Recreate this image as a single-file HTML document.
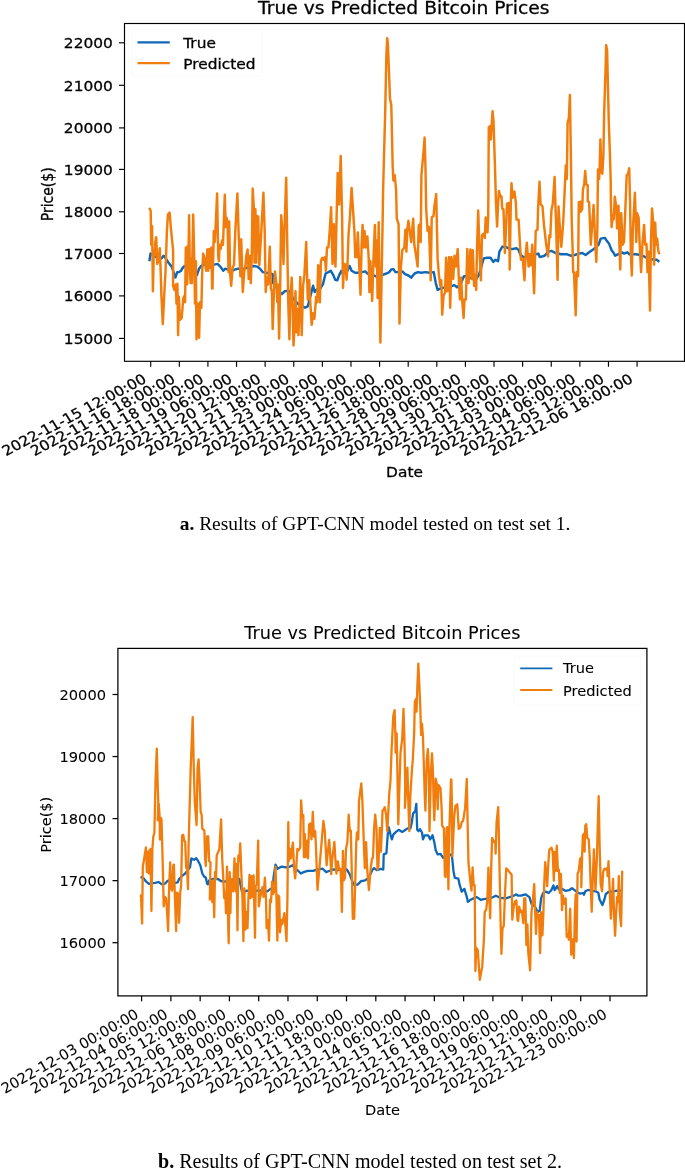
<!DOCTYPE html>
<html><head><meta charset="utf-8"><title>GPT-CNN results</title>
<style>html,body{margin:0;padding:0;background:#fff}body{width:685px;height:1169px;overflow:hidden}</style>
</head><body>
<svg width="685" height="1169" viewBox="0 0 685 1169" style="display:block">
<rect width="685" height="1169" fill="#fff"/>
<filter id="soft1" x="-3%" y="-3%" width="106%" height="106%"><feGaussianBlur stdDeviation="0.4"/></filter>
<g filter="url(#soft1)">
<clipPath id="clip1"><rect x="124.5" y="23.5" width="560.0" height="337.8"/></clipPath>
<g clip-path="url(#clip1)" fill="none" stroke-linejoin="round" stroke-linecap="butt" stroke-width="2.45">
<polyline stroke="#1068b8" points="149.4,261.2 150.5,253.6 151.8,254.3 155.9,257.1 161.4,258.4 163.5,255.7 165.5,257.8 168.3,262.5 171.7,266.6 175.4,277.6 177.2,272.1 179.2,272.1 180.9,270.8 182.6,268.0 184.7,266.0 190.2,269.4 197.0,274.9 199.1,268.7 201.1,266.0 203.9,264.6 209.3,265.3 213.4,264.6 214.1,264.6 217.5,263.9 220.3,266.6 223.3,270.8 225.1,268.7 227.8,269.4 231.9,270.8 235.3,269.4 238.1,268.7 244.2,268.7 251.1,266.6 253.8,266.0 257.2,266.6 260.0,268.7 262.7,272.1 266.1,272.8 270.2,273.5 272.7,274.2 273.2,283.1 275.7,285.8 278.4,291.3 281.8,294.0 284.6,291.3 288.7,290.6 292.8,298.1 297.6,303.6 305.1,307.7 307.8,306.3 309.9,298.1 312.0,289.9 313.1,285.8 314.7,292.0 316.1,289.9 320.2,288.5 322.9,284.4 325.6,273.5 328.4,272.1 330.8,270.8 333.2,274.9 335.2,279.7 337.3,280.3 339.3,274.9 341.4,270.8 342.7,273.5 346.8,272.1 349.6,266.0 351.6,270.8 355.1,272.8 357.8,272.8 361.9,272.1 365.3,271.4 367.4,273.5 375.6,276.2 382.4,274.9 386.5,273.5 389.3,272.1 391.3,269.4 393.4,269.1 395.4,272.1 398.9,272.1 402.3,271.4 405.0,274.2 408.4,275.5 411.2,277.6 414.6,273.5 418.0,272.1 421.4,272.8 425.5,272.1 429.6,272.8 433.7,272.1 435.8,283.1 437.6,289.9 442.0,287.9 448.8,287.2 454.3,285.1 457.0,287.2 460.4,284.4 463.9,276.2 468.0,276.2 472.1,279.0 472.7,279.0 476.2,279.0 478.9,274.9 483.7,258.4 487.1,257.8 490.5,257.8 493.3,261.9 495.3,259.8 498.1,261.2 499.4,251.6 502.2,246.8 505.6,246.8 509.7,248.9 513.1,248.9 516.5,248.2 518.6,250.2 520.6,255.0 523.4,257.1 528.9,257.1 535.7,254.3 538.4,253.6 539.8,257.1 544.6,255.7 548.7,251.6 551.4,250.9 555.5,253.0 561.0,254.3 566.5,254.1 570.6,255.7 574.7,255.0 578.8,253.6 582.2,253.0 585.6,255.0 589.1,252.3 593.9,248.9 598.6,244.7 600.7,238.6 604.9,237.9 606.2,240.0 608.9,243.4 611.6,250.2 613.7,253.0 615.1,255.7 617.8,254.3 621.9,252.3 624.0,253.6 627.4,252.3 629.4,254.3 635.6,254.3 641.1,255.0 647.9,258.4 654.1,259.8 656.8,259.8 659.3,261.9"/>
<polyline stroke="#f07d0a" points="149.1,207.8 150.7,210.5 151.2,244.7 152.1,226.3 152.9,291.3 153.8,251.6 154.6,255.7 155.3,242.0 156.2,237.2 157.3,263.9 158.7,259.8 159.8,248.2 160.7,272.1 161.4,295.4 162.8,324.1 164.2,295.4 165.5,272.1 166.9,231.1 167.9,214.6 169.6,212.6 171.0,229.7 173.1,250.2 173.1,285.8 174.4,289.9 175.8,284.4 176.5,303.6 177.4,283.8 178.1,335.1 178.9,296.8 179.9,320.0 181.7,318.0 183.3,298.1 184.7,295.4 185.1,302.2 185.8,247.5 186.5,272.1 187.2,284.4 187.8,246.1 188.3,266.6 189.1,215.3 189.9,272.1 190.6,283.1 191.3,258.4 191.9,283.1 193.2,214.6 194.3,261.2 195.0,303.6 195.9,261.2 196.5,339.2 197.7,303.6 199.1,337.8 200.0,302.2 201.4,307.7 202.2,272.1 203.2,253.6 204.5,258.4 206.2,270.8 207.3,249.5 208.2,270.8 209.3,248.9 210.4,268.0 211.4,247.5 212.1,288.5 211.4,247.5 212.5,288.5 213.8,231.1 214.8,242.0 215.5,229.7 217.1,193.4 218.2,255.7 218.9,261.2 219.6,244.7 220.7,248.9 222.0,240.6 223.0,244.7 224.8,194.8 225.7,227.0 226.4,217.4 227.5,221.5 228.5,272.1 229.2,221.5 230.1,273.5 231.2,285.8 232.6,268.0 234.0,264.6 235.3,231.1 237.4,193.4 238.7,235.2 240.4,276.2 241.2,239.3 242.8,292.0 244.2,272.1 245.3,266.6 246.3,255.7 247.6,249.5 248.7,279.0 249.7,255.7 250.8,283.1 251.7,258.4 252.7,188.6 253.8,207.8 254.5,262.5 255.4,209.2 256.3,262.5 257.2,216.0 258.2,216.7 259.3,265.3 261.3,231.1 263.4,192.7 264.7,231.1 265.7,292.0 266.8,277.6 268.2,284.4 269.8,246.8 270.9,288.5 271.9,291.3 272.7,328.9 274.1,285.8 275.0,271.4 276.4,284.4 277.3,302.2 278.0,284.4 279.1,338.5 280.2,285.8 281.2,215.3 282.5,233.8 283.5,263.9 284.3,233.8 286.2,177.8 287.6,265.3 288.3,303.6 289.4,339.2 290.3,299.5 291.7,277.6 292.5,299.5 293.5,345.4 294.4,329.6 295.5,291.3 296.5,332.3 297.6,309.1 298.5,335.1 300.3,276.9 301.7,335.1 303.1,285.8 304.4,274.9 306.2,242.0 307.2,280.3 307.8,299.5 309.2,280.3 310.3,302.2 311.7,324.8 313.1,313.2 314.4,318.7 315.4,306.3 316.1,296.8 317.2,302.2 318.1,265.3 319.1,266.6 319.9,302.2 320.9,261.2 322.2,257.8 323.6,259.8 325.0,257.1 325.9,270.8 327.0,247.5 328.4,247.5 329.7,231.1 331.1,207.2 331.8,235.2 332.5,263.9 333.9,224.2 334.5,255.7 335.5,266.6 336.6,217.4 337.7,173.0 339.1,204.5 340.7,155.9 342.1,217.4 343.0,287.9 344.1,263.9 345.5,264.6 346.6,279.7 347.5,263.9 348.5,235.2 349.9,217.4 351.6,187.9 354.4,231.1 355.3,257.1 356.7,257.1 357.8,232.4 358.9,258.4 360.5,294.7 361.6,244.7 362.6,224.9 363.5,247.5 364.6,231.1 365.7,247.5 367.4,236.5 368.7,258.4 369.4,292.0 370.4,261.2 372.2,300.9 373.5,258.4 374.9,224.9 375.9,266.6 376.7,240.6 377.6,298.1 378.7,222.2 379.7,299.5 380.4,342.6 381.7,272.1 382.7,217.4 383.1,190.0 385.2,112.0 386.3,57.4 387.2,38.2 387.9,43.7 390.0,98.4 391.3,105.3 392.7,166.9 393.4,180.6 394.7,175.1 396.1,190.0 396.8,218.7 398.6,224.2 399.5,323.5 400.9,266.6 402.3,250.2 404.3,247.5 405.4,229.7 406.4,251.6 407.3,229.7 408.4,220.8 409.8,231.1 411.2,242.0 413.2,218.7 414.3,244.7 415.9,254.3 417.6,266.6 418.7,225.6 419.8,224.2 420.7,242.0 421.4,175.3 423.5,152.0 424.6,137.6 425.5,168.4 426.2,209.5 427.6,231.1 429.0,227.0 430.7,280.3 431.7,217.4 433.5,216.0 434.4,206.4 436.2,194.1 437.6,258.4 438.9,274.9 440.3,285.8 441.3,280.3 442.2,314.6 443.6,295.4 445.0,292.7 446.1,257.8 447.4,291.3 449.1,257.1 450.2,307.7 451.5,257.1 453.2,279.0 454.5,255.7 455.9,266.6 457.7,248.9 459.1,285.8 460.0,299.5 461.1,277.6 462.2,300.9 463.6,318.0 464.5,299.5 465.9,299.5 467.3,248.9 468.6,283.1 470.4,249.5 471.8,279.0 472.8,250.2 474.1,285.8 475.2,274.9 476.2,289.9 477.1,244.7 478.2,210.5 479.3,244.7 480.9,280.3 482.0,235.2 483.7,233.8 484.8,237.9 485.7,217.4 486.7,218.7 487.5,232.4 488.2,216.9 488.8,127.2 490.5,125.9 490.8,139.5 491.9,121.1 492.6,111.2 493.5,121.1 494.1,139.5 495.0,167.6 496.0,203.2 497.1,226.5 498.1,203.2 499.0,190.9 500.4,197.0 501.5,196.3 502.2,208.7 503.5,209.3 504.9,253.0 505.9,231.1 507.0,203.7 509.0,203.0 509.7,269.4 510.8,203.2 511.5,183.3 512.7,197.7 513.5,196.3 514.5,191.6 515.9,203.2 516.5,219.6 518.6,219.6 520.0,244.7 520.9,259.8 522.7,258.4 524.5,280.3 525.4,258.4 526.8,242.7 527.8,255.7 528.6,266.6 529.5,254.3 530.5,265.3 532.3,244.7 533.2,272.1 534.1,293.3 535.0,258.4 535.7,231.1 537.1,229.7 537.5,229.7 538.0,210.5 539.5,181.8 540.5,203.7 542.5,206.5 543.9,224.2 545.9,242.0 548.0,256.4 549.4,235.2 550.3,237.2 551.4,210.5 552.8,203.7 554.6,177.0 555.5,207.8 556.2,227.0 557.6,279.7 558.5,206.4 559.6,224.2 561.3,246.8 563.1,224.2 564.4,196.9 565.8,165.4 566.8,179.1 567.6,123.0 568.9,117.5 569.9,94.9 570.9,155.8 571.7,220.0 572.6,248.9 573.1,272.1 574.0,272.1 575.7,315.2 576.7,272.1 578.1,276.2 578.5,231.1 578.8,202.3 580.9,201.7 580.4,211.9 582.2,209.2 582.9,190.0 584.3,183.2 585.2,170.9 586.3,184.6 587.7,185.2 587.7,201.0 589.1,202.3 590.8,244.7 593.6,205.1 595.2,242.0 596.3,261.9 597.3,231.1 598.0,169.5 599.1,179.1 599.6,169.5 600.4,139.4 601.4,172.2 602.3,173.6 603.4,155.8 604.1,114.7 605.5,71.1 606.2,45.1 607.1,50.5 607.9,84.7 608.9,125.8 609.9,153.2 610.7,180.6 610.9,203.7 611.6,227.0 613.0,214.6 613.7,219.4 614.8,196.8 616.2,206.4 617.1,228.3 618.5,205.7 619.4,244.7 620.3,269.4 621.2,213.3 622.6,244.7 624.0,242.0 625.3,210.5 626.7,175.1 628.1,173.7 629.2,168.2 630.1,203.7 630.8,251.6 631.8,275.5 632.8,231.1 634.9,192.7 635.9,224.2 636.3,242.0 637.2,213.3 638.6,217.4 639.7,244.7 641.1,272.1 642.4,244.7 644.1,224.9 645.2,244.7 646.5,244.1 647.5,272.1 648.6,251.6 650.0,310.4 650.9,244.7 652.0,208.5 653.4,224.2 654.1,264.6 655.2,222.8 656.1,244.7 657.2,238.6 658.2,250.2 659.3,254.3"/>
</g>
<text font-family="DejaVu Sans, Liberation Sans, sans-serif" stroke="#000" stroke-width="0.28" font-size="14" text-anchor="end" transform="translate(112.8,48.20) scale(1.1,1)">22000</text>
<text font-family="DejaVu Sans, Liberation Sans, sans-serif" stroke="#000" stroke-width="0.28" font-size="14" text-anchor="end" transform="translate(112.8,90.70) scale(1.1,1)">21000</text>
<text font-family="DejaVu Sans, Liberation Sans, sans-serif" stroke="#000" stroke-width="0.28" font-size="14" text-anchor="end" transform="translate(112.8,133.30) scale(1.1,1)">20000</text>
<text font-family="DejaVu Sans, Liberation Sans, sans-serif" stroke="#000" stroke-width="0.28" font-size="14" text-anchor="end" transform="translate(112.8,174.80) scale(1.1,1)">19000</text>
<text font-family="DejaVu Sans, Liberation Sans, sans-serif" stroke="#000" stroke-width="0.28" font-size="14" text-anchor="end" transform="translate(112.8,217.20) scale(1.1,1)">18000</text>
<text font-family="DejaVu Sans, Liberation Sans, sans-serif" stroke="#000" stroke-width="0.28" font-size="14" text-anchor="end" transform="translate(112.8,258.90) scale(1.1,1)">17000</text>
<text font-family="DejaVu Sans, Liberation Sans, sans-serif" stroke="#000" stroke-width="0.28" font-size="14" text-anchor="end" transform="translate(112.8,301.30) scale(1.1,1)">16000</text>
<text font-family="DejaVu Sans, Liberation Sans, sans-serif" stroke="#000" stroke-width="0.28" font-size="14" text-anchor="end" transform="translate(112.8,343.80) scale(1.1,1)">15000</text>
<text font-family="DejaVu Sans, Liberation Sans, sans-serif" stroke="#000" stroke-width="0.28" font-size="14" text-anchor="end" transform="translate(147.50,381.90) scale(1.1,1) rotate(-30)">2022-11-15 12:00:00</text>
<text font-family="DejaVu Sans, Liberation Sans, sans-serif" stroke="#000" stroke-width="0.28" font-size="14" text-anchor="end" transform="translate(176.11,381.90) scale(1.1,1) rotate(-30)">2022-11-16 18:00:00</text>
<text font-family="DejaVu Sans, Liberation Sans, sans-serif" stroke="#000" stroke-width="0.28" font-size="14" text-anchor="end" transform="translate(204.72,381.90) scale(1.1,1) rotate(-30)">2022-11-18 00:00:00</text>
<text font-family="DejaVu Sans, Liberation Sans, sans-serif" stroke="#000" stroke-width="0.28" font-size="14" text-anchor="end" transform="translate(233.33,381.90) scale(1.1,1) rotate(-30)">2022-11-19 06:00:00</text>
<text font-family="DejaVu Sans, Liberation Sans, sans-serif" stroke="#000" stroke-width="0.28" font-size="14" text-anchor="end" transform="translate(261.94,381.90) scale(1.1,1) rotate(-30)">2022-11-20 12:00:00</text>
<text font-family="DejaVu Sans, Liberation Sans, sans-serif" stroke="#000" stroke-width="0.28" font-size="14" text-anchor="end" transform="translate(290.55,381.90) scale(1.1,1) rotate(-30)">2022-11-21 18:00:00</text>
<text font-family="DejaVu Sans, Liberation Sans, sans-serif" stroke="#000" stroke-width="0.28" font-size="14" text-anchor="end" transform="translate(319.16,381.90) scale(1.1,1) rotate(-30)">2022-11-23 00:00:00</text>
<text font-family="DejaVu Sans, Liberation Sans, sans-serif" stroke="#000" stroke-width="0.28" font-size="14" text-anchor="end" transform="translate(347.77,381.90) scale(1.1,1) rotate(-30)">2022-11-24 06:00:00</text>
<text font-family="DejaVu Sans, Liberation Sans, sans-serif" stroke="#000" stroke-width="0.28" font-size="14" text-anchor="end" transform="translate(376.38,381.90) scale(1.1,1) rotate(-30)">2022-11-25 12:00:00</text>
<text font-family="DejaVu Sans, Liberation Sans, sans-serif" stroke="#000" stroke-width="0.28" font-size="14" text-anchor="end" transform="translate(404.99,381.90) scale(1.1,1) rotate(-30)">2022-11-26 18:00:00</text>
<text font-family="DejaVu Sans, Liberation Sans, sans-serif" stroke="#000" stroke-width="0.28" font-size="14" text-anchor="end" transform="translate(433.60,381.90) scale(1.1,1) rotate(-30)">2022-11-28 00:00:00</text>
<text font-family="DejaVu Sans, Liberation Sans, sans-serif" stroke="#000" stroke-width="0.28" font-size="14" text-anchor="end" transform="translate(462.21,381.90) scale(1.1,1) rotate(-30)">2022-11-29 06:00:00</text>
<text font-family="DejaVu Sans, Liberation Sans, sans-serif" stroke="#000" stroke-width="0.28" font-size="14" text-anchor="end" transform="translate(490.82,381.90) scale(1.1,1) rotate(-30)">2022-11-30 12:00:00</text>
<text font-family="DejaVu Sans, Liberation Sans, sans-serif" stroke="#000" stroke-width="0.28" font-size="14" text-anchor="end" transform="translate(519.43,381.90) scale(1.1,1) rotate(-30)">2022-12-01 18:00:00</text>
<text font-family="DejaVu Sans, Liberation Sans, sans-serif" stroke="#000" stroke-width="0.28" font-size="14" text-anchor="end" transform="translate(548.04,381.90) scale(1.1,1) rotate(-30)">2022-12-03 00:00:00</text>
<text font-family="DejaVu Sans, Liberation Sans, sans-serif" stroke="#000" stroke-width="0.28" font-size="14" text-anchor="end" transform="translate(576.65,381.90) scale(1.1,1) rotate(-30)">2022-12-04 06:00:00</text>
<text font-family="DejaVu Sans, Liberation Sans, sans-serif" stroke="#000" stroke-width="0.28" font-size="14" text-anchor="end" transform="translate(605.26,381.90) scale(1.1,1) rotate(-30)">2022-12-05 12:00:00</text>
<text font-family="DejaVu Sans, Liberation Sans, sans-serif" stroke="#000" stroke-width="0.28" font-size="14" text-anchor="end" transform="translate(633.87,381.90) scale(1.1,1) rotate(-30)">2022-12-06 18:00:00</text>
<text font-family="DejaVu Sans, Liberation Sans, sans-serif" stroke="#000" stroke-width="0.28" font-size="17" text-anchor="middle" transform="translate(403.8,13.5) scale(1.1,1)">True vs Predicted Bitcoin Prices</text>
<text font-family="DejaVu Sans, Liberation Sans, sans-serif" stroke="#000" stroke-width="0.28" font-size="14" text-anchor="middle" transform="translate(404.5,477.3) scale(1.1,1)">Date</text>
<text font-family="DejaVu Sans, Liberation Sans, sans-serif" stroke="#000" stroke-width="0.28" font-size="14" text-anchor="middle" transform="translate(52.8,194.3) scale(1.1,1) rotate(-90)">Price($)</text>
<rect x="132" y="29.8" width="130" height="46.2" rx="2.5" fill="#fff" fill-opacity="0.8" stroke="#fafafa" stroke-width="1"/>
<line x1="137.5" x2="169.8" y1="42.4" y2="42.4" stroke="#1068b8" stroke-width="2.3"/>
<line x1="137.5" x2="169.8" y1="63.2" y2="63.2" stroke="#f07d0a" stroke-width="2.3"/>
<text font-family="DejaVu Sans, Liberation Sans, sans-serif" stroke="#000" stroke-width="0.28" font-size="14" transform="translate(183.2,47.6) scale(1.1,1)">True</text>
<text font-family="DejaVu Sans, Liberation Sans, sans-serif" stroke="#000" stroke-width="0.28" font-size="14" transform="translate(183.2,69) scale(1.1,1)">Predicted</text>
<rect x="124.5" y="23.5" width="560.0" height="337.8" fill="none" stroke="#000" stroke-width="1.15"/>
<line x1="119.0" y1="42.80" x2="124.5" y2="42.80" stroke="#000" stroke-width="1.15"/>
<line x1="119.0" y1="85.30" x2="124.5" y2="85.30" stroke="#000" stroke-width="1.15"/>
<line x1="119.0" y1="127.90" x2="124.5" y2="127.90" stroke="#000" stroke-width="1.15"/>
<line x1="119.0" y1="169.40" x2="124.5" y2="169.40" stroke="#000" stroke-width="1.15"/>
<line x1="119.0" y1="211.80" x2="124.5" y2="211.80" stroke="#000" stroke-width="1.15"/>
<line x1="119.0" y1="253.50" x2="124.5" y2="253.50" stroke="#000" stroke-width="1.15"/>
<line x1="119.0" y1="295.90" x2="124.5" y2="295.90" stroke="#000" stroke-width="1.15"/>
<line x1="119.0" y1="338.40" x2="124.5" y2="338.40" stroke="#000" stroke-width="1.15"/>
<line x1="150.70" y1="361.3" x2="150.70" y2="366.8" stroke="#000" stroke-width="1.15"/>
<line x1="179.31" y1="361.3" x2="179.31" y2="366.8" stroke="#000" stroke-width="1.15"/>
<line x1="207.92" y1="361.3" x2="207.92" y2="366.8" stroke="#000" stroke-width="1.15"/>
<line x1="236.53" y1="361.3" x2="236.53" y2="366.8" stroke="#000" stroke-width="1.15"/>
<line x1="265.14" y1="361.3" x2="265.14" y2="366.8" stroke="#000" stroke-width="1.15"/>
<line x1="293.75" y1="361.3" x2="293.75" y2="366.8" stroke="#000" stroke-width="1.15"/>
<line x1="322.36" y1="361.3" x2="322.36" y2="366.8" stroke="#000" stroke-width="1.15"/>
<line x1="350.97" y1="361.3" x2="350.97" y2="366.8" stroke="#000" stroke-width="1.15"/>
<line x1="379.58" y1="361.3" x2="379.58" y2="366.8" stroke="#000" stroke-width="1.15"/>
<line x1="408.19" y1="361.3" x2="408.19" y2="366.8" stroke="#000" stroke-width="1.15"/>
<line x1="436.80" y1="361.3" x2="436.80" y2="366.8" stroke="#000" stroke-width="1.15"/>
<line x1="465.41" y1="361.3" x2="465.41" y2="366.8" stroke="#000" stroke-width="1.15"/>
<line x1="494.02" y1="361.3" x2="494.02" y2="366.8" stroke="#000" stroke-width="1.15"/>
<line x1="522.63" y1="361.3" x2="522.63" y2="366.8" stroke="#000" stroke-width="1.15"/>
<line x1="551.24" y1="361.3" x2="551.24" y2="366.8" stroke="#000" stroke-width="1.15"/>
<line x1="579.85" y1="361.3" x2="579.85" y2="366.8" stroke="#000" stroke-width="1.15"/>
<line x1="608.46" y1="361.3" x2="608.46" y2="366.8" stroke="#000" stroke-width="1.15"/>
<line x1="637.07" y1="361.3" x2="637.07" y2="366.8" stroke="#000" stroke-width="1.15"/>
</g>
<filter id="soft2" x="-3%" y="-3%" width="106%" height="106%"><feGaussianBlur stdDeviation="0.25"/></filter>
<g filter="url(#soft2)">
<clipPath id="clip2"><rect x="117.9" y="648.4" width="529.0" height="347.5"/></clipPath>
<g clip-path="url(#clip2)" fill="none" stroke-linejoin="round" stroke-linecap="butt" stroke-width="2.3">
<polyline stroke="#1068b8" points="140.5,876.9 143.5,878.3 146.2,881.7 148.9,883.8 152.4,883.1 155.1,882.8 158.5,882.0 162.0,884.4 165.4,883.3 167.4,881.0 170.8,880.3 174.3,883.1 177.7,882.4 179.1,879.0 181.8,876.2 185.2,873.5 190.0,867.3 191.4,858.4 194.1,859.8 196.2,858.2 198.2,861.2 200.3,865.3 202.3,873.5 204.4,876.9 205.8,877.6 207.1,883.8 207.8,884.4 209.2,880.3 212.6,879.0 218.1,879.0 220.8,881.0 224.9,881.7 230.4,880.3 234.5,879.0 239.3,879.0 242.0,892.0 244.1,892.0 246.8,890.6 250.9,891.3 257.7,890.6 263.2,890.6 267.3,891.3 270.1,889.2 272.9,887.9 273.5,877.6 275.5,864.6 277.6,868.7 281.7,866.6 285.8,867.3 289.9,866.6 292.6,865.3 294.7,868.0 298.1,870.8 300.8,873.5 303.6,872.1 307.7,870.8 313.2,870.8 317.3,869.4 322.7,868.7 326.2,872.1 329.6,870.8 333.7,869.4 337.9,870.1 341.2,869.5 346.7,869.5 349.4,873.6 353.5,884.6 357.6,884.6 361.1,881.1 365.2,880.4 368.6,877.7 372.7,869.5 374.1,868.1 376.8,870.2 380.9,868.8 383.0,869.5 383.3,869.5 383.7,854.4 386.4,853.1 387.8,833.9 388.7,827.1 390.5,834.6 391.9,839.4 393.3,834.6 396.0,831.9 398.7,829.8 402.2,831.9 405.6,829.8 407.6,828.4 410.4,828.4 411.7,823.0 413.1,813.4 415.2,811.3 416.3,803.8 417.2,829.8 418.6,831.2 420.0,829.1 422.0,832.5 423.0,839.4 424.7,835.3 428.2,835.3 430.2,839.4 432.5,835.3 434.3,842.1 435.7,850.3 437.7,854.4 440.5,853.8 443.2,857.9 447.3,855.8 451.4,854.4 452.1,857.4 453.5,871.1 454.8,877.9 458.3,878.6 459.6,884.7 461.7,891.6 464.4,888.9 467.2,898.4 467.8,901.9 470.6,899.8 473.3,898.4 476.7,897.1 480.8,899.8 483.6,899.1 489.1,898.4 493.2,897.1 495.9,895.7 500.0,897.8 505.5,898.4 509.6,897.1 513.7,895.7 516.4,894.3 517.9,895.7 521.2,895.7 525.3,894.3 529.4,897.1 531.5,903.9 534.9,906.6 537.6,912.1 539.7,910.8 541.1,898.4 543.1,893.0 545.8,891.6 548.6,893.0 551.3,890.2 553.4,885.4 554.7,890.2 557.1,886.1 558.9,889.5 562.3,888.9 565.7,890.9 569.1,890.2 571.9,888.2 574.6,890.2 577.3,892.3 580.1,893.6 582.9,893.0 583.9,894.7 585.3,891.3 588.0,889.9 591.4,890.6 595.5,891.3 598.3,892.7 599.6,899.5 602.4,905.0 604.4,899.5 605.8,894.0 608.5,892.0 613.3,891.3 617.4,890.6 622.2,890.6"/>
<polyline stroke="#f07d0a" points="140.5,896.8 141.0,895.4 142.1,923.5 142.8,866.6 144.2,858.4 145.9,847.5 146.9,872.1 147.9,851.6 148.9,873.5 149.6,850.2 150.6,848.9 151.4,911.1 152.4,848.9 153.3,836.5 154.4,832.8 155.5,782.1 156.8,748.6 157.6,782.1 158.3,803.3 157.7,820.4 158.8,804.0 159.6,816.3 159.9,839.6 160.6,817.7 161.5,819.1 162.6,858.4 163.7,906.3 164.7,896.8 166.1,898.1 167.0,910.4 168.1,931.0 169.2,885.8 170.2,862.5 171.1,888.5 172.2,890.6 173.3,865.3 173.9,864.6 175.0,899.5 176.1,931.0 177.0,892.7 178.4,894.0 179.1,922.8 180.2,892.7 181.1,885.8 182.1,835.5 183.2,834.8 184.3,841.0 185.2,841.7 186.2,868.0 187.0,867.3 188.0,889.2 188.6,844.7 190.7,768.4 192.7,717.1 193.8,768.4 194.8,802.7 196.6,825.2 197.5,768.4 198.6,759.5 199.6,782.1 200.7,812.2 201.6,814.3 202.3,828.7 204.4,830.7 205.1,858.4 205.8,866.0 207.1,836.5 208.2,836.5 209.2,861.2 210.5,862.5 209.8,899.5 211.2,881.7 212.3,902.2 213.3,880.3 214.2,917.3 215.0,872.1 216.0,879.0 216.7,855.7 218.3,851.6 219.4,848.9 221.1,819.4 222.2,858.4 223.3,879.0 224.2,898.1 225.2,892.7 226.0,913.2 227.0,866.6 227.9,913.2 228.7,943.3 229.7,872.1 230.4,913.2 231.1,879.0 232.0,889.9 233.1,891.3 234.5,858.4 235.6,891.3 236.5,863.9 237.5,930.3 238.3,855.7 239.3,861.2 240.2,843.4 241.3,872.1 242.4,896.8 243.4,941.2 244.3,888.5 245.4,929.6 246.5,911.8 247.5,928.2 248.4,899.5 249.5,874.9 250.6,898.1 251.6,876.2 252.5,896.8 253.6,875.5 255.0,937.8 255.7,885.8 256.7,884.4 258.2,840.6 258.8,906.3 259.8,899.5 261.2,892.7 262.5,887.2 263.5,896.8 264.9,877.6 266.0,899.5 266.6,928.2 268.0,920.0 269.0,940.6 270.1,899.5 271.0,902.2 272.1,881.7 273.2,894.0 274.2,891.3 275.5,866.6 276.5,899.5 277.3,940.6 278.3,895.4 279.2,896.8 280.0,932.3 281.4,920.0 282.4,924.1 283.3,918.7 284.4,913.2 285.5,926.9 286.5,941.2 287.4,899.5 288.3,822.2 288.9,861.2 289.9,848.9 291.0,858.4 292.0,848.9 292.9,842.7 294.0,866.6 295.1,878.3 296.1,869.4 297.4,848.9 298.8,850.2 300.2,847.5 301.1,800.3 302.2,817.4 303.3,815.3 303.9,857.1 304.7,833.8 305.6,857.1 306.6,840.6 308.0,858.4 309.1,824.2 310.7,823.5 311.5,839.3 312.8,811.9 313.9,836.5 315.2,831.1 315.9,844.7 317.5,889.9 319.3,869.4 321.4,844.7 323.4,820.8 324.8,831.1 326.6,865.3 328.0,850.2 329.2,840.0 330.3,855.7 331.2,874.2 332.3,858.4 334.4,842.0 335.3,858.4 336.4,873.5 337.8,861.3 339.2,869.5 340.5,868.8 341.2,883.2 341.9,911.9 342.9,851.0 343.9,880.4 345.0,877.7 346.0,849.0 347.4,842.1 348.7,814.7 349.7,831.2 350.8,830.5 351.9,876.3 352.8,918.8 354.2,918.8 355.2,883.2 356.3,842.1 357.0,832.5 358.3,839.4 359.0,801.1 361.3,783.3 362.4,801.1 363.8,842.1 364.8,868.1 366.1,842.1 367.2,869.5 368.9,890.0 370.6,869.5 372.0,858.5 373.0,857.9 374.1,828.4 375.2,814.7 376.5,828.4 377.5,869.5 378.4,866.8 379.8,827.8 380.9,851.7 382.0,827.1 382.5,810.6 383.6,810.0 384.7,807.2 386.1,814.7 387.3,831.2 389.2,794.2 390.5,780.5 391.5,751.3 393.3,715.7 394.6,710.2 395.3,732.1 395.6,752.7 396.7,733.5 397.4,773.2 398.3,824.3 399.4,786.9 400.5,752.7 402.2,739.0 403.5,708.9 404.6,745.8 405.2,786.9 404.9,807.9 406.3,786.9 407.4,767.7 408.3,800.6 409.3,831.2 410.4,794.2 411.7,773.7 412.8,759.5 414.2,732.1 414.8,702.0 415.8,699.3 416.5,711.6 417.2,691.1 418.3,663.7 419.3,684.2 420.2,704.7 421.1,734.9 422.0,723.9 423.0,737.6 424.1,773.2 424.7,794.2 425.4,810.6 426.8,759.5 427.9,749.2 428.9,773.2 429.5,831.2 430.9,773.2 432.0,753.3 433.0,773.2 433.6,801.1 434.3,820.2 435.7,778.7 437.1,785.5 437.7,809.3 438.4,784.8 440.5,788.2 441.6,807.9 442.1,825.7 443.9,828.4 444.9,876.3 445.7,877.0 446.6,828.4 447.3,827.1 448.4,889.3 449.4,828.4 451.0,779.3 452.1,814.7 451.4,779.7 452.4,856.3 454.2,816.6 455.5,805.7 457.3,804.3 458.7,829.0 460.3,827.6 461.7,822.1 463.1,820.8 465.1,808.4 466.8,779.0 467.6,822.1 468.5,863.2 470.6,883.7 471.5,890.6 472.6,867.3 473.7,885.1 474.7,885.4 475.4,971.0 476.3,947.7 477.8,950.4 479.8,979.9 482.2,966.9 483.9,939.5 484.7,912.1 486.3,909.4 487.4,898.4 488.4,867.6 489.3,898.4 490.2,918.3 491.1,871.1 492.1,837.9 493.9,842.0 495.2,841.3 495.6,853.6 496.6,822.1 498.2,807.1 498.9,835.8 499.7,876.9 500.7,925.8 501.4,953.9 502.5,928.5 503.8,925.8 504.8,898.4 506.2,868.3 508.2,870.4 509.6,872.4 511.6,874.5 512.3,919.7 513.7,906.6 515.1,901.2 516.4,900.5 517.5,920.3 518.2,921.0 519.2,906.6 520.5,912.1 521.9,910.8 523.3,923.1 524.2,898.4 525.3,898.4 526.4,945.0 527.4,924.4 528.3,953.2 530.1,970.3 531.5,912.1 532.8,901.2 534.2,884.1 535.2,912.1 536.0,934.0 537.0,912.1 537.9,917.6 539.0,914.9 540.1,953.2 541.1,912.1 542.4,935.4 543.4,912.1 544.2,884.7 545.2,862.2 546.1,871.1 547.2,886.1 548.3,864.2 549.3,849.8 550.6,848.5 551.6,847.8 552.7,851.9 553.8,880.6 554.7,851.9 555.7,871.1 556.8,845.7 557.9,871.1 558.9,869.7 559.8,893.0 560.9,873.8 562.0,910.1 563.0,895.7 564.3,903.9 565.7,898.4 566.7,936.8 567.7,934.0 568.8,939.5 570.2,908.7 571.2,954.6 572.5,939.5 573.9,958.0 574.9,912.1 575.7,894.3 576.6,941.6 577.6,873.8 578.7,871.1 580.1,858.7 581.4,857.4 581.3,887.2 582.1,855.7 582.9,835.2 583.9,833.8 584.6,851.6 585.3,825.6 586.2,824.2 587.3,837.9 588.7,839.3 589.8,858.4 590.7,885.8 591.7,911.8 592.8,879.0 593.9,849.5 594.8,872.1 595.5,889.9 596.9,858.4 598.0,817.4 598.7,796.2 599.6,844.7 600.7,884.4 602.1,891.3 603.1,872.1 604.4,868.7 605.8,869.4 607.2,868.0 607.6,876.2 608.5,861.2 609.5,885.8 610.9,918.7 612.0,899.5 613.1,879.0 614.0,913.2 615.1,935.8 616.1,913.2 617.2,896.8 618.1,902.2 618.8,876.2 619.9,913.2 621.1,926.2 622.2,870.8"/>
</g>
<text font-family="DejaVu Sans, Liberation Sans, sans-serif" stroke="#000" stroke-width="0.08" font-size="14.5" text-anchor="end" transform="translate(106,699.80) scale(1.01,1)">20000</text>
<text font-family="DejaVu Sans, Liberation Sans, sans-serif" stroke="#000" stroke-width="0.08" font-size="14.5" text-anchor="end" transform="translate(106,761.85) scale(1.01,1)">19000</text>
<text font-family="DejaVu Sans, Liberation Sans, sans-serif" stroke="#000" stroke-width="0.08" font-size="14.5" text-anchor="end" transform="translate(106,823.90) scale(1.01,1)">18000</text>
<text font-family="DejaVu Sans, Liberation Sans, sans-serif" stroke="#000" stroke-width="0.08" font-size="14.5" text-anchor="end" transform="translate(106,885.95) scale(1.01,1)">17000</text>
<text font-family="DejaVu Sans, Liberation Sans, sans-serif" stroke="#000" stroke-width="0.08" font-size="14.5" text-anchor="end" transform="translate(106,948.00) scale(1.01,1)">16000</text>
<text font-family="DejaVu Sans, Liberation Sans, sans-serif" stroke="#000" stroke-width="0.08" font-size="14.5" text-anchor="end" transform="translate(139.60,1017.10) scale(1.01,1) rotate(-30)">2022-12-03 00:00:00</text>
<text font-family="DejaVu Sans, Liberation Sans, sans-serif" stroke="#000" stroke-width="0.08" font-size="14.5" text-anchor="end" transform="translate(168.88,1017.10) scale(1.01,1) rotate(-30)">2022-12-04 06:00:00</text>
<text font-family="DejaVu Sans, Liberation Sans, sans-serif" stroke="#000" stroke-width="0.08" font-size="14.5" text-anchor="end" transform="translate(198.15,1017.10) scale(1.01,1) rotate(-30)">2022-12-05 12:00:00</text>
<text font-family="DejaVu Sans, Liberation Sans, sans-serif" stroke="#000" stroke-width="0.08" font-size="14.5" text-anchor="end" transform="translate(227.42,1017.10) scale(1.01,1) rotate(-30)">2022-12-06 18:00:00</text>
<text font-family="DejaVu Sans, Liberation Sans, sans-serif" stroke="#000" stroke-width="0.08" font-size="14.5" text-anchor="end" transform="translate(256.70,1017.10) scale(1.01,1) rotate(-30)">2022-12-08 00:00:00</text>
<text font-family="DejaVu Sans, Liberation Sans, sans-serif" stroke="#000" stroke-width="0.08" font-size="14.5" text-anchor="end" transform="translate(285.98,1017.10) scale(1.01,1) rotate(-30)">2022-12-09 06:00:00</text>
<text font-family="DejaVu Sans, Liberation Sans, sans-serif" stroke="#000" stroke-width="0.08" font-size="14.5" text-anchor="end" transform="translate(315.25,1017.10) scale(1.01,1) rotate(-30)">2022-12-10 12:00:00</text>
<text font-family="DejaVu Sans, Liberation Sans, sans-serif" stroke="#000" stroke-width="0.08" font-size="14.5" text-anchor="end" transform="translate(344.52,1017.10) scale(1.01,1) rotate(-30)">2022-12-11 18:00:00</text>
<text font-family="DejaVu Sans, Liberation Sans, sans-serif" stroke="#000" stroke-width="0.08" font-size="14.5" text-anchor="end" transform="translate(373.80,1017.10) scale(1.01,1) rotate(-30)">2022-12-13 00:00:00</text>
<text font-family="DejaVu Sans, Liberation Sans, sans-serif" stroke="#000" stroke-width="0.08" font-size="14.5" text-anchor="end" transform="translate(403.07,1017.10) scale(1.01,1) rotate(-30)">2022-12-14 06:00:00</text>
<text font-family="DejaVu Sans, Liberation Sans, sans-serif" stroke="#000" stroke-width="0.08" font-size="14.5" text-anchor="end" transform="translate(432.35,1017.10) scale(1.01,1) rotate(-30)">2022-12-15 12:00:00</text>
<text font-family="DejaVu Sans, Liberation Sans, sans-serif" stroke="#000" stroke-width="0.08" font-size="14.5" text-anchor="end" transform="translate(461.62,1017.10) scale(1.01,1) rotate(-30)">2022-12-16 18:00:00</text>
<text font-family="DejaVu Sans, Liberation Sans, sans-serif" stroke="#000" stroke-width="0.08" font-size="14.5" text-anchor="end" transform="translate(490.90,1017.10) scale(1.01,1) rotate(-30)">2022-12-18 00:00:00</text>
<text font-family="DejaVu Sans, Liberation Sans, sans-serif" stroke="#000" stroke-width="0.08" font-size="14.5" text-anchor="end" transform="translate(520.17,1017.10) scale(1.01,1) rotate(-30)">2022-12-19 06:00:00</text>
<text font-family="DejaVu Sans, Liberation Sans, sans-serif" stroke="#000" stroke-width="0.08" font-size="14.5" text-anchor="end" transform="translate(549.45,1017.10) scale(1.01,1) rotate(-30)">2022-12-20 12:00:00</text>
<text font-family="DejaVu Sans, Liberation Sans, sans-serif" stroke="#000" stroke-width="0.08" font-size="14.5" text-anchor="end" transform="translate(578.73,1017.10) scale(1.01,1) rotate(-30)">2022-12-21 18:00:00</text>
<text font-family="DejaVu Sans, Liberation Sans, sans-serif" stroke="#000" stroke-width="0.08" font-size="14.5" text-anchor="end" transform="translate(608.00,1017.10) scale(1.01,1) rotate(-30)">2022-12-23 00:00:00</text>
<text font-family="DejaVu Sans, Liberation Sans, sans-serif" stroke="#000" stroke-width="0.08" font-size="17.55" text-anchor="middle" transform="translate(382.4,639) scale(1.01,1)">True vs Predicted Bitcoin Prices</text>
<text font-family="DejaVu Sans, Liberation Sans, sans-serif" stroke="#000" stroke-width="0.08" font-size="14.5" text-anchor="middle" transform="translate(382.4,1114.8) scale(1.01,1)">Date</text>
<text font-family="DejaVu Sans, Liberation Sans, sans-serif" stroke="#000" stroke-width="0.08" font-size="14.5" text-anchor="middle" transform="translate(51,824.7) scale(1.01,1) rotate(-90)">Price($)</text>
<rect x="514" y="656" width="126.5" height="49" rx="2.5" fill="#fff" fill-opacity="0.8" stroke="#fafafa" stroke-width="1"/>
<line x1="520.2" x2="552.4" y1="668.4" y2="668.4" stroke="#1068b8" stroke-width="1.8"/>
<line x1="520.2" x2="552.4" y1="690" y2="690" stroke="#f07d0a" stroke-width="1.8"/>
<text font-family="DejaVu Sans, Liberation Sans, sans-serif" stroke="#000" stroke-width="0.08" font-size="14.5" transform="translate(563,673.4) scale(1.01,1)">True</text>
<text font-family="DejaVu Sans, Liberation Sans, sans-serif" stroke="#000" stroke-width="0.08" font-size="14.5" transform="translate(563,695.5) scale(1.01,1)">Predicted</text>
</g>
<rect x="117.9" y="648.4" width="529.0" height="347.5" fill="none" stroke="#000" stroke-width="1.25"/>
<line x1="112.5" y1="694.50" x2="117.9" y2="694.50" stroke="#000" stroke-width="1.25"/>
<line x1="112.5" y1="756.55" x2="117.9" y2="756.55" stroke="#000" stroke-width="1.25"/>
<line x1="112.5" y1="818.60" x2="117.9" y2="818.60" stroke="#000" stroke-width="1.25"/>
<line x1="112.5" y1="880.65" x2="117.9" y2="880.65" stroke="#000" stroke-width="1.25"/>
<line x1="112.5" y1="942.70" x2="117.9" y2="942.70" stroke="#000" stroke-width="1.25"/>
<line x1="141.60" y1="995.9" x2="141.60" y2="1001.3" stroke="#000" stroke-width="1.25"/>
<line x1="170.88" y1="995.9" x2="170.88" y2="1001.3" stroke="#000" stroke-width="1.25"/>
<line x1="200.15" y1="995.9" x2="200.15" y2="1001.3" stroke="#000" stroke-width="1.25"/>
<line x1="229.42" y1="995.9" x2="229.42" y2="1001.3" stroke="#000" stroke-width="1.25"/>
<line x1="258.70" y1="995.9" x2="258.70" y2="1001.3" stroke="#000" stroke-width="1.25"/>
<line x1="287.98" y1="995.9" x2="287.98" y2="1001.3" stroke="#000" stroke-width="1.25"/>
<line x1="317.25" y1="995.9" x2="317.25" y2="1001.3" stroke="#000" stroke-width="1.25"/>
<line x1="346.52" y1="995.9" x2="346.52" y2="1001.3" stroke="#000" stroke-width="1.25"/>
<line x1="375.80" y1="995.9" x2="375.80" y2="1001.3" stroke="#000" stroke-width="1.25"/>
<line x1="405.07" y1="995.9" x2="405.07" y2="1001.3" stroke="#000" stroke-width="1.25"/>
<line x1="434.35" y1="995.9" x2="434.35" y2="1001.3" stroke="#000" stroke-width="1.25"/>
<line x1="463.62" y1="995.9" x2="463.62" y2="1001.3" stroke="#000" stroke-width="1.25"/>
<line x1="492.90" y1="995.9" x2="492.90" y2="1001.3" stroke="#000" stroke-width="1.25"/>
<line x1="522.17" y1="995.9" x2="522.17" y2="1001.3" stroke="#000" stroke-width="1.25"/>
<line x1="551.45" y1="995.9" x2="551.45" y2="1001.3" stroke="#000" stroke-width="1.25"/>
<line x1="580.73" y1="995.9" x2="580.73" y2="1001.3" stroke="#000" stroke-width="1.25"/>
<line x1="610.00" y1="995.9" x2="610.00" y2="1001.3" stroke="#000" stroke-width="1.25"/>
<text font-family="Liberation Serif, Times New Roman, serif" font-size="19.45" x="179.7" y="529.5"><tspan font-weight="bold">a.</tspan> Results of GPT-CNN model tested on test set 1.</text>
<text font-family="Liberation Serif, Times New Roman, serif" font-size="20.06" x="158.0" y="1167.7"><tspan font-weight="bold">b.</tspan> Results of GPT-CNN model tested on test set 2.</text>
</svg>
</body></html>
